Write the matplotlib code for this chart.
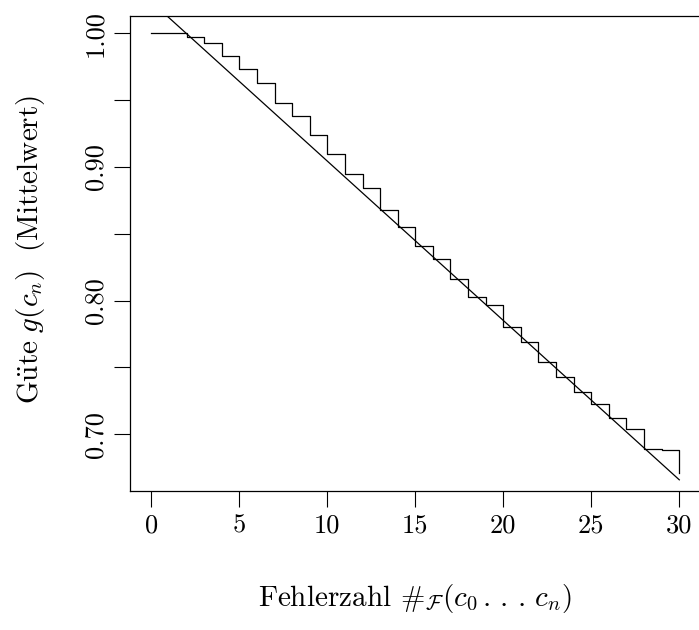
import matplotlib
matplotlib.use('Agg')
import matplotlib.pyplot as plt

plt.rcParams['mathtext.fontset'] = 'cm'
plt.rcParams['font.family'] = ['cmr10', 'DejaVu Serif']
plt.rcParams['axes.unicode_minus'] = False

# Fehlerzahl 0..30 and mean quality (step curve)
fehler = list(range(31))
guete = [1.000, 1.000, 0.997, 0.9925, 0.983, 0.973, 0.963, 0.948, 0.938, 0.924,
         0.910, 0.895, 0.884, 0.868, 0.855, 0.8405, 0.831, 0.8163, 0.8028, 0.797,
         0.7804, 0.7687, 0.7537, 0.743, 0.7313, 0.7225, 0.712, 0.704, 0.689, 0.688,
         0.671]

# fitted regression line, drawn over the data range
intercept = 1.0237
slope = -0.01193
fit_x = [fehler[0], fehler[-1]]
fit_y = [intercept + slope * v for v in fit_x]

x_ticks = [0, 5, 10, 15, 20, 25, 30]
y_ticks = [0.70, 0.75, 0.80, 0.85, 0.90, 0.95, 1.00]
y_labels = ['0.70', '', '0.80', '', '0.90', '', '1.00']

fig = plt.figure(figsize=(6.99, 6.30), dpi=100)
ax = fig.add_axes([0.186, 0.221, 0.814, 0.754])

ax.step(fehler, guete, where='post', color='black', linewidth=0.9)
ax.plot(fit_x, fit_y, color='black', linewidth=0.9)

ax.set_xlim(-1.21, 31.12)
ax.set_ylim(0.6576, 1.0132)

ax.set_xticks(x_ticks)
ax.set_xticklabels([str(t) for t in x_ticks])
ax.set_yticks(y_ticks)
ax.set_yticklabels(y_labels, rotation=90, va='center')

ax.tick_params(direction='out', length=11.5, width=0.8, labelsize=19, pad=5)
ax.spines['right'].set_visible(False)
for s in ['left', 'bottom', 'top']:
    ax.spines[s].set_linewidth(0.9)

ax.set_xlabel(r'Fehlerzahl $\#_{\mathcal{F}}(c_0\,.\,.\,.\,c_n)$', fontsize=21, va='center')
ax.set_ylabel(r'$\mathrm{G\ddot{u}te}\ g(c_n)\ \ (\mathrm{Mittelwert})$', fontsize=21, va='center')
ax.xaxis.set_label_coords(0.50, -0.226)
ax.yaxis.set_label_coords(-0.1757, 0.507)

fig.savefig('out.png', dpi=100)
